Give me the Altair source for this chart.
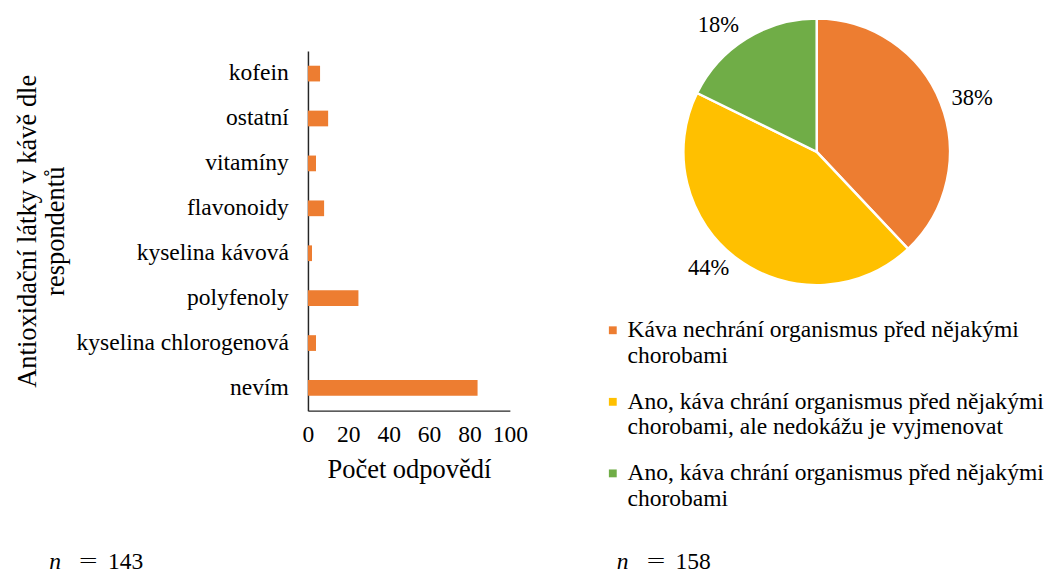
import altair as alt
import pandas as pd

FONT = "Liberation Serif"

# ---- bar chart data ----
categories = ["kofein", "ostatní", "vitamíny", "flavonoidy", "kyselina kávová",
              "polyfenoly", "kyselina chlorogenová", "nevím"]
counts = [6, 10, 4, 8, 2, 25, 4, 84]
x_ticks = [0, 20, 40, 60, 80, 100]
n_left = 143

# ---- pie chart data ----
pie_labels = [
    "Káva nechrání organismus před nějakými\nchorobami",
    "Ano, káva chrání organismus před nějakými\nchorobami, ale nedokážu je vyjmenovat",
    "Ano, káva chrání organismus před nějakými\nchorobami",
]
pie_values = [60, 70, 28]
pie_pct = ["38%", "44%", "18%"]
pie_colors = ["#ED7D31", "#FFC000", "#70AD47"]
n_right = 158

df_bar = pd.DataFrame({"cat": categories, "val": counts})
df_pie = pd.DataFrame({"lab": pie_labels, "val": pie_values, "pct": pie_pct,
                       "idx": list(range(len(pie_labels)))})
df_nl = pd.DataFrame({"n": ["n"], "eq": ["="], "num": [str(n_left)]})
df_nr = pd.DataFrame({"n": ["n"], "eq": ["="], "num": [str(n_right)]})


def n_marks(df, x0):
    a = alt.Chart(df).mark_text(font=FONT, fontSize=24, fontStyle="italic",
                                align="left", baseline="alphabetic").encode(
        text="n:N", x=alt.value(x0), y=alt.value(529))
    b = alt.Chart(df).mark_text(font="DejaVu Sans", fontSize=25, fontWeight=300,
                                align="center", baseline="alphabetic").encode(
        text="eq:N", x=alt.value(x0 + 40), y=alt.value(528))
    c = alt.Chart(df).mark_text(font=FONT, fontSize=24, align="left",
                                baseline="alphabetic").encode(
        text="num:N", x=alt.value(x0 + 60), y=alt.value(529))
    return [a, b, c]


bars = alt.Chart(df_bar).mark_bar(color="#ED7D31").encode(
    y=alt.Y("cat:N", sort=categories,
            scale=alt.Scale(paddingInner=0.65, paddingOuter=0.33),
            axis=alt.Axis(title=["Antioxidační látky v kávě dle", "respondentů"],
                          ticks=False, labelPadding=20, labelLimit=0,
                          domainColor="#262626", domainWidth=1.5,
                          titlePadding=43)),
    x=alt.X("val:Q", scale=alt.Scale(domain=[0, 100], nice=False),
            axis=alt.Axis(values=x_ticks, ticks=False, grid=False,
                          labelOverlap=False, labelFlush=False,
                          labelPadding=12, title="Počet odpovědí", titlePadding=11,
                          domainColor="#262626", domainWidth=1.5)),
)

left = alt.layer(bars, *n_marks(df_nl, -264)).properties(width=206, height=367)

base = alt.Chart(df_pie).encode(
    theta=alt.Theta("val:Q", stack=True),
    order=alt.Order("idx:Q"),
    color=alt.Color("lab:N", sort=pie_labels,
                    scale=alt.Scale(domain=pie_labels, range=pie_colors),
                    legend=alt.Legend(title=None, orient="none", legendX=299, legendY=273,
                                      symbolType="square", symbolSize=64,
                                      symbolStrokeWidth=0,
                                      labelFontSize=24, labelFont=FONT, labelLimit=0,
                                      labelExpr="split(datum.label, '\\n')",
                                      rowPadding=23, labelOffset=3)),
)
arcs = base.mark_arc(outerRadius=136, stroke="white", strokeWidth=2.5).encode(
    x=alt.value(219), y=alt.value(103))

lab_base = alt.Chart(df_pie).transform_joinaggregate(
    total="sum(val)"
).transform_window(
    cum="sum(val)", sort=[alt.SortField("idx")], frame=[None, 0]
).transform_calculate(
    mid="(datum.cum - datum.val / 2) / datum.total * 2 * PI"
)
lab_right = lab_base.transform_filter("datum.mid < PI").mark_text(
    radius=148, font=FONT, fontSize=23, align="left", baseline="middle", color="black"
).encode(theta=alt.Theta("mid:Q", scale=None), text="pct:N",
         x=alt.value(219), y=alt.value(103))
lab_left = lab_base.transform_filter("datum.mid >= PI").mark_text(
    radius=150, font=FONT, fontSize=23, align="right", baseline="middle", color="black"
).encode(theta=alt.Theta("mid:Q", scale=None), text="pct:N",
         x=alt.value(219), y=alt.value(101))

right = alt.layer(arcs, lab_right, lab_left, *n_marks(df_nr, 15)).properties(
    width=412, height=367)

chart = alt.hconcat(left, right, spacing=76).properties(
    padding={"left": 6, "top": 0, "right": 5, "bottom": 0}
).configure(font=FONT).configure_view(stroke=None).configure_axis(
    labelFont=FONT, titleFont=FONT, labelFontSize=24, titleFontSize=27,
    labelColor="black", titleColor="black", titleFontWeight="normal"
)

chart.save("out.html", embed_options={"renderer": "svg", "actions": False})
